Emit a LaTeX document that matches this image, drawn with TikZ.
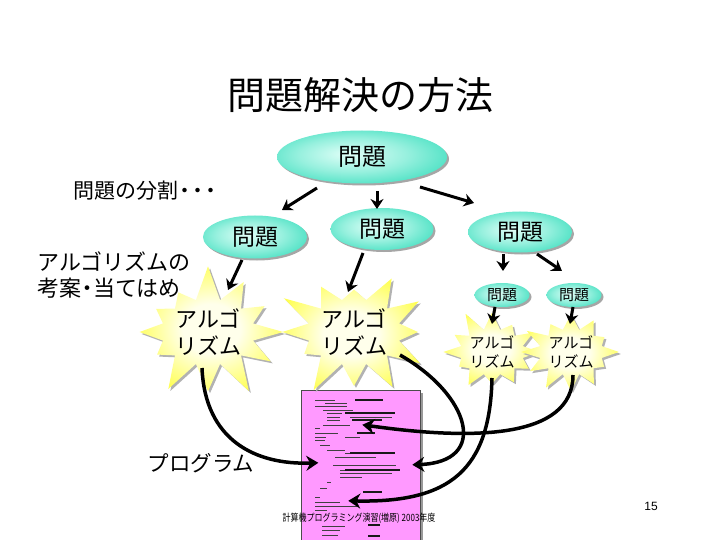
\documentclass[tikz,border=0pt]{standalone}
\usepackage{fontspec}
\setmainfont{Noto Sans CJK JP}
\newfontfamily\latinsans{Liberation Sans}
\usetikzlibrary{shapes.geometric,shapes.symbols,arrows.meta,shadows,calc}
\definecolor{turq}{RGB}{60,222,190}
\definecolor{turqlight}{RGB}{225,255,248}
\definecolor{starY}{RGB}{255,255,80}
\definecolor{starL}{RGB}{255,255,235}
\definecolor{progpink}{RGB}{255,153,255}
\pgfdeclareradialshading{probshade}{\pgfpoint{-4bp}{3bp}}{color(0bp)=(turqlight); color(16bp)=(turqlight!55!turq); color(32bp)=(turq); color(50bp)=(turq)}
\pgfdeclareradialshading{starshade}{\pgfpoint{0bp}{0bp}}{color(0bp)=(starL); color(10bp)=(starL); color(28bp)=(starY); color(50bp)=(starY)}
\tikzset{
  prob/.style={ellipse, shading=probshade, inner sep=0pt,
    drop shadow={shadow xshift=2pt, shadow yshift=-2pt, fill=black!35, opacity=1}},
  algo/.style={starburst, shading=starshade, inner sep=0pt, align=center, starburst points=12,
    drop shadow={shadow xshift=2pt, shadow yshift=-2pt, fill=black!30, opacity=1}},
  arr/.style={line width=3pt, -{Stealth[length=10pt,width=13pt]}},
  carr/.style={line width=3.5pt, -{Stealth[length=12pt,width=15pt]}},
  lbl/.style={inner sep=0pt},
  codeln/.style={line width=1pt, black!75},
  codebold/.style={line width=2pt, black!90},
}
\begin{document}
\begin{tikzpicture}[x=1pt,y=-1pt]
\useasboundingbox[fill=white] (0,0) rectangle (720,540);

% title
\node[lbl, font=\fontsize{38}{40}\selectfont] (title) at (360,95) {問題解決の方法};

% side labels
\node[lbl, anchor=west, font=\fontsize{21}{24}\selectfont] (split) at (73,191) {問題の分割\hspace{-4pt}・\hspace{-8pt}・\hspace{-8pt}・};
\node[lbl, align=left, font=\fontsize{22}{26}\selectfont] (consider) at (114,275) {アルゴリズムの\\考案\hspace{-5pt}・\hspace{-5pt}当てはめ};
\node[lbl, font=\fontsize{21.5}{24}\selectfont] (proglbl) at (201,463) {プログラム};
\node[lbl, font=\latinsans\fontsize{12}{14}\selectfont] (page) at (651,506) {15};

% program listing
\node[draw=black!70, line width=0.6pt, fill=progpink, minimum width=119pt, minimum height=150pt, anchor=north west, inner sep=0pt,
  drop shadow={shadow xshift=3pt, shadow yshift=-3pt, fill=black!40, opacity=1}] (prog) at (301,390) {};
\foreach \a/\b/\y in {315/335/400,325/347/403,315/347/406,323/353/410,
  327/342/413,327/340/417,327/340/420,323/345/425,315/320/428,315/338/433,315/326/437,315/325/440,
  320/330/445,327/345/450,345/375/453,335/376/457,333/393/465,340/360/470,340/388/473,
  340/362/477,327/331/482,320/327/488,315/320/497,315/340/502,315/345/506,315/327/510,
  322/345/526,322/340/530,322/338/535}
  \draw[codeln] (\a,\y) -- (\b,\y);
\foreach \a/\b/\y in {355/383/400,345/395/413,362/382/420,352/368/420,357/375/433,350/395/453,
  345/400/470,363/382/492,368/380/525,368/380/536}
  \draw[codebold] (\a,\y) -- (\b,\y);
\foreach \a/\b/\y in {350/392/417,340/396/465,355/392/473,330/350/425,340/358/506,345/360/437}
  \draw[codeln] (\a,\y) -- (\b,\y);

% problem ellipses
\node[prob, minimum width=170pt, minimum height=53pt, font=\fontsize{24}{26}\selectfont] (top) at (362,157) {問題};
\node[prob, minimum width=104pt, minimum height=43pt, font=\fontsize{23}{25}\selectfont] (p1) at (255,237) {問題};
\node[prob, minimum width=103pt, minimum height=42pt, font=\fontsize{23}{25}\selectfont] (p2) at (382,229) {問題};
\node[prob, minimum width=104pt, minimum height=41pt, font=\fontsize{23}{25}\selectfont] (p3) at (520,232) {問題};
\node[prob, minimum width=55pt, minimum height=24pt, font=\fontsize{15}{17}\selectfont] (q1) at (502,295) {問題};
\node[prob, minimum width=55pt, minimum height=24pt, font=\fontsize{15}{17}\selectfont] (q2) at (574,295) {問題};

% algorithm starbursts
\node[algo, minimum width=132pt, minimum height=92pt, starburst point height=36pt, random starburst=7,
  font=\fontsize{22}{27}\selectfont] (s1) at (208,332) {アルゴ\\リズム};
\node[algo, minimum width=132pt, minimum height=92pt, starburst point height=36pt, random starburst=23,
  font=\fontsize{22}{27}\selectfont] (s2) at (354,332) {アルゴ\\リズム};
\node[algo, minimum width=72pt, minimum height=68pt, starburst point height=22pt, random starburst=11,
  font=\fontsize{15}{19}\selectfont] (s3) at (492,352) {アルゴ\\リズム};
\node[algo, minimum width=72pt, minimum height=68pt, starburst point height=22pt, random starburst=41,
  font=\fontsize{15}{19}\selectfont] (s4) at (571,352) {アルゴ\\リズム};

% straight arrows
\draw[arr] ($(top)+(-45,31)$) -- ($(p1)+(27,-27)$);
\draw[arr] ($(top)+(15,34)$) -- ($(p2)+(-5,-20)$);
\draw[arr] ($(top)+(58,30)$) -- ($(p3)+(-46,-29)$);
\draw[arr] ($(p1)+(-13,23)$) -- ($(s1)+(20,-42)$);
\draw[arr] ($(p2)+(-19,24)$) -- ($(s2)+(-6,-40)$);
\draw[arr] ($(p3)+(-17,22)$) -- ($(q1)+(1,-24)$);
\draw[arr] ($(p3)+(17,22)$) -- ($(q2)+(-12,-24)$);
\draw[arr] ($(q1)+(-7,12)$) -- ($(s3)+(0,-28)$);
\draw[arr] ($(q2)+(-1,12)$) -- ($(s4)+(-1,-28)$);

% curved arrows to the program
\draw[carr] ($(s1)+(-6,36)$) .. controls (205,440) and (255,465) .. ($(prog)+(-42.5,-2.5)$);
\draw[carr] ($(s2)+(46,23)$) .. controls (470,395) and (490,462) .. ($(prog)+(51.5,-0.5)$);
\draw[carr] ($(s3)+(0,26)$) .. controls (490,470) and (450,503) .. ($(prog)+(-12.5,35.5)$);
\draw[carr] ($(s4)+(2,23)$) .. controls (573,440) and (470,440) .. ($(prog)+(1.5,-40.5)$);

% footer
\node[lbl, font=\fontsize{10}{12}\selectfont] (footer) at (359,518) {\scalebox{0.8}[1]{計算機プログラミング演習(増原) 2003年度}};
\end{tikzpicture}
\end{document}
